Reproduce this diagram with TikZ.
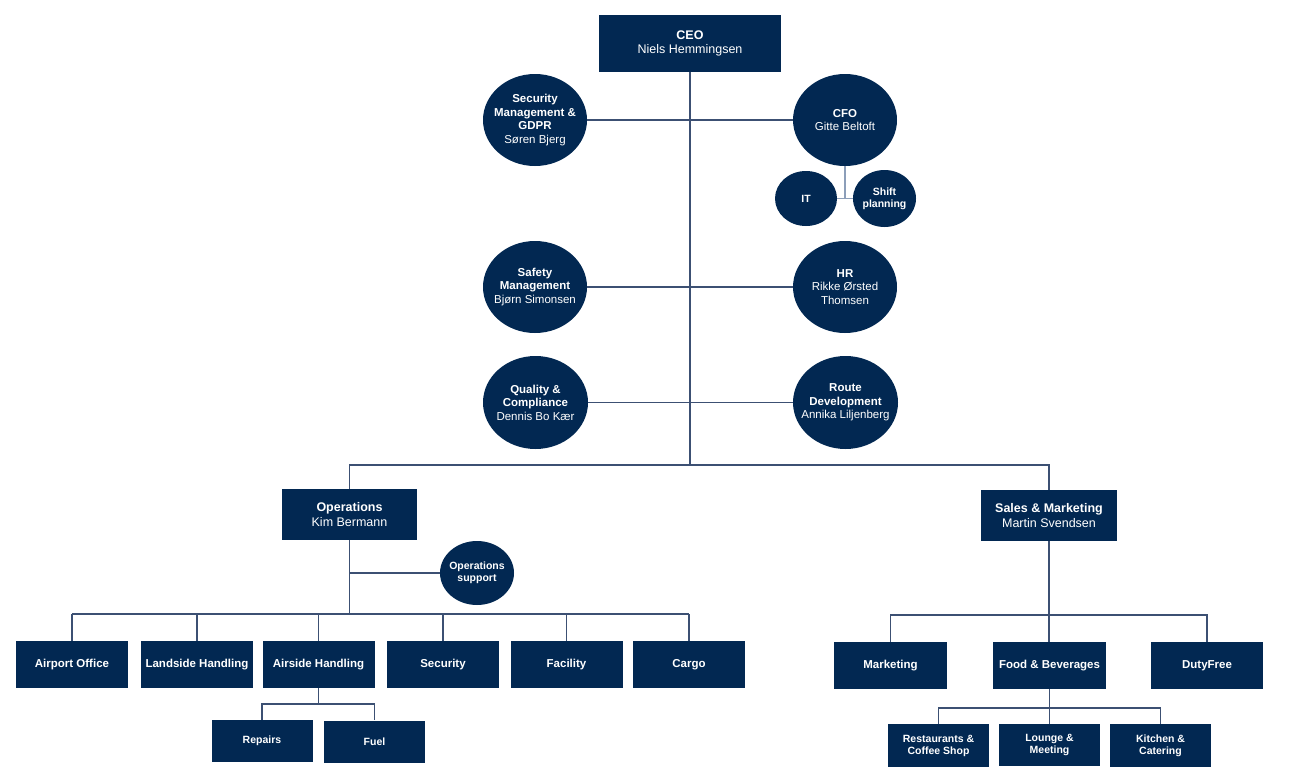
\documentclass[tikz,border=0pt]{standalone}
\usepackage{fontspec}
\setmainfont{Liberation Sans}
\usetikzlibrary{shapes.geometric}
\definecolor{navy}{RGB}{2,40,82}
\definecolor{lnc}{RGB}{60,80,115}
\definecolor{lnl}{RGB}{140,158,185}
\tikzset{
  box/.style={rectangle, fill=navy, text=white, align=center, inner sep=0pt},
  circ/.style={ellipse, fill=navy, inner sep=0pt},
  ctext/.style={text=white, align=center, inner sep=0pt},
  fbig/.style={font=\fontsize{12.5}{14.5}\selectfont},
  fmid/.style={font=\fontsize{11.5}{13.5}\selectfont},
  fsm/.style={font=\fontsize{10.5}{12}\selectfont},
  rowbox/.style={box, fmid, minimum width=112pt, minimum height=47pt},
  subbox/.style={box, fsm, minimum width=101pt, minimum height=42pt},
  conn/.style={draw=lnc, line width=1.2pt},
}
\begin{document}
\begin{tikzpicture}[x=1pt,y=-1pt]
\useasboundingbox[fill=white] (0,0) rectangle (1290,779);
% top level
\node[box, fbig, minimum width=182pt, minimum height=57pt] (ceo) at (690,43.5) {\textbf{CEO}\\Niels Hemmingsen};
\node[circ, minimum width=104pt, minimum height=92pt] (secm) at (535,120) {};
\node[ctext, fmid] (secmT) at (secm) {\textbf{Security}\\\textbf{Management \&}\\\textbf{GDPR}\\Søren Bjerg};
\node[circ, minimum width=104pt, minimum height=92pt] (cfo) at (845,120) {};
\node[ctext, fmid] (cfoT) at (cfo) {\textbf{CFO}\\Gitte Beltoft};
\node[circ, minimum width=62pt, minimum height=55pt] (it) at (806,198.5) {};
\node[ctext, fsm] (itT) at (it) {\textbf{IT}};
\node[circ, minimum width=63pt, minimum height=57pt] (shift) at (884.5,198.5) {};
\node[ctext, fsm] (shiftT) at (shift) {\textbf{Shift}\\\textbf{planning}};
\node[circ, minimum width=104pt, minimum height=92pt] (safe) at (535,287) {};
\node[ctext, fmid] (safeT) at (safe) {\textbf{Safety}\\\textbf{Management}\\Bjørn Simonsen};
\node[circ, minimum width=104pt, minimum height=92pt] (hr) at (845,287) {};
\node[ctext, fmid] (hrT) at (hr) {\textbf{HR}\\Rikke Ørsted\\Thomsen};
\node[circ, minimum width=105pt, minimum height=93pt] (qual) at (535.5,402.5) {};
\node[ctext, fmid] (qualT) at (qual) {\textbf{Quality \&}\\\textbf{Compliance}\\Dennis Bo Kær};
\node[circ, minimum width=105pt, minimum height=93pt] (route) at (845.5,402.5) {};
\node[ctext, fmid] (routeT) at (route) {\textbf{Route}\\\textbf{Development}\\Annika Liljenberg};
% divisions
\node[box, fbig, minimum width=135pt, minimum height=51pt] (ops) at (349.5,514.5) {\textbf{Operations}\\Kim Bermann};
\node[box, fbig, minimum width=136pt, minimum height=51pt] (sales) at (1049,515.5) {\textbf{Sales \& Marketing}\\Martin Svendsen};
\node[circ, minimum width=74pt, minimum height=64pt] (opsup) at (477,573) {};
\node[ctext, fsm] (opsupT) at (opsup) {\textbf{Operations}\\\textbf{support}};
% operations row
\node[rowbox] (ao) at (72,664.5) {\textbf{Airport Office}};
\node[rowbox] (lh) at (197,664.5) {\textbf{Landside Handling}};
\node[rowbox] (ah) at (318.5,664.5) {\textbf{Airside Handling}};
\node[rowbox] (secu) at (443,664.5) {\textbf{Security}};
\node[rowbox] (fac) at (566.5,664.5) {\textbf{Facility}};
\node[rowbox] (cargo) at (689,664.5) {\textbf{Cargo}};
\node[subbox] (rep) at (262,741) {\textbf{Repairs}};
\node[subbox] (fuel) at (374.5,741.5) {\textbf{Fuel}};
% sales row
\node[rowbox, minimum width=113pt] (mkt) at (890.5,665.5) {\textbf{Marketing}};
\node[rowbox, minimum width=113pt] (fb) at (1049.5,665.5) {\textbf{Food \& Beverages}};
\node[rowbox] (duty) at (1207,665.5) {\textbf{DutyFree}};
\node[subbox, minimum height=43pt] (rest) at (938.5,745.5) {\textbf{Restaurants \&}\\\textbf{Coffee Shop}};
\node[subbox] (lounge) at (1049.5,745) {\textbf{Lounge \&}\\\textbf{Meeting}};
\node[subbox, minimum height=43pt] (kit) at (1160.5,745.5) {\textbf{Kitchen \&}\\\textbf{Catering}};
% junctions
\coordinate (j1) at (690,465);
\coordinate (j2) at (0,614);
\coordinate (j3) at (0,704);
\coordinate (j4) at (0,615);
\coordinate (j5) at (0,708);
% connectors
\draw[conn] (ceo.south) -- (j1);
\draw[conn] (secm) -- (cfo);
\draw[conn] (safe) -- (hr);
\draw[conn] (qual) -- (route);
\draw[conn, draw=lnl] (cfo.south) -- (cfo.south |- it.center);
\draw[conn, draw=lnl] (it) -- (shift);
\draw[conn] (ops.north) -- (ops.north |- j1) -- (sales.north |- j1) -- (sales.north);
\draw[conn] (ops.south) -- (ops.south |- j2);
\draw[conn] (ops.south |- opsup.west) -- (opsup.west);
\draw[conn] (ao.north |- j2) -- (cargo.north |- j2);
\foreach \n in {ao,lh,ah,secu,fac,cargo} \draw[conn] (\n.north) -- (\n.north |- j2);
\draw[conn] (ah.south) -- (ah.south |- j3);
\draw[conn] (rep.north) -- (rep.north |- j3) -- (fuel.north |- j3) -- (fuel.north);
\draw[conn] (sales.south) -- (sales.south |- fb.north);
\draw[conn] (mkt.north) -- (mkt.north |- j4) -- (duty.north |- j4) -- (duty.north);
\draw[conn] (fb.south) -- (lounge.north);
\draw[conn] (rest.north) -- (rest.north |- j5) -- (kit.north |- j5) -- (kit.north);
\end{tikzpicture}
\end{document}
